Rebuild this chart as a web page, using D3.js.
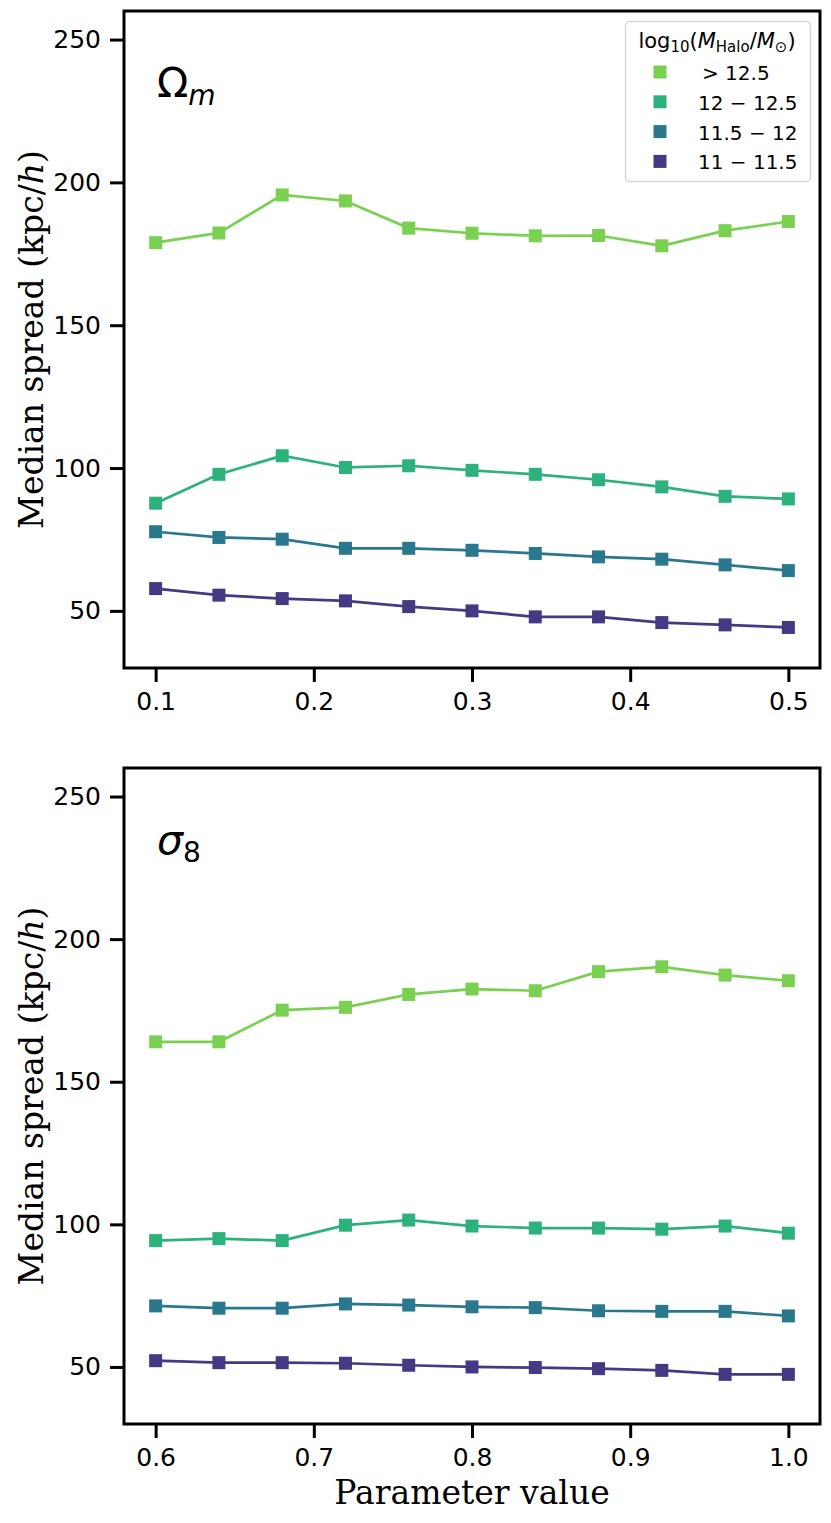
<!DOCTYPE html>
<html>
<head>
<meta charset="utf-8">
<script src="https://cdn.jsdelivr.net/npm/d3@7"></script>
<style>
  body { margin: 0; background: #fff; }
</style>
</head>
<body>
<div id="chart"></div>
<script>
// parameter grids
var omX = [0.1, 0.14, 0.18, 0.22, 0.26, 0.3, 0.34, 0.38, 0.42, 0.46, 0.5];
var s8X = [0.6, 0.64, 0.68, 0.72, 0.76, 0.8, 0.84, 0.88, 0.92, 0.96, 1.0];

var binLabels = ["> 12.5", "12 \u2212 12.5", "11.5 \u2212 12", "11 \u2212 11.5"];
var binColors = ["#7ad151", "#2db27d", "#2a788e", "#443983"];

// median spread, Omega_m runs
var omHigh    = [178.9, 182.3, 195.6, 193.5, 184.0, 182.2, 181.3, 181.4, 177.8, 183.1, 186.3];
var omMid     = [87.7, 97.8, 104.3, 100.2, 100.8, 99.2, 97.8, 95.9, 93.4, 90.1, 89.2];
var omLow     = [77.7, 75.7, 75.1, 71.9, 71.9, 71.2, 70.1, 68.9, 68.1, 66.1, 64.1];
var omLowest  = [57.8, 55.5, 54.3, 53.5, 51.5, 50.0, 47.9, 47.9, 45.9, 45.1, 44.2];

// median spread, sigma_8 runs
var s8High    = [164.0, 164.0, 175.1, 176.1, 180.6, 182.5, 181.9, 188.6, 190.3, 187.4, 185.4];
var s8Mid     = [94.3, 95.0, 94.3, 99.7, 101.5, 99.4, 98.7, 98.7, 98.3, 99.4, 96.9];
var s8Low     = [71.4, 70.6, 70.6, 72.1, 71.7, 71.1, 70.8, 69.7, 69.5, 69.5, 67.9];
var s8Lowest  = [52.2, 51.5, 51.5, 51.3, 50.6, 50.0, 49.8, 49.4, 48.8, 47.4, 47.4];

var yTicks = [50, 100, 150, 200, 250];
var omTicks = [0.1, 0.2, 0.3, 0.4, 0.5];
var s8Ticks = [0.6, 0.7, 0.8, 0.9, 1.0];

var width = 831,
    height = 1523;

var svg = d3.select("#chart")
  .append("svg")
  .attr("width", width)
  .attr("height", height)
  .style("font-family", "'DejaVu Sans', sans-serif");

var left = 124, right = 820;

function panel(top, bottom, xs, xDomain, xTicks, series, tag) {
  var x = d3.scaleLinear().domain(xDomain).range([left, right]);
  var y = d3.scaleLinear().domain([30, 260]).range([bottom, top]);

  var g = svg.append("g");

  var line = d3.line()
    .x(function(d, i){ return x(xs[i]) })
    .y(function(d){ return y(d) });

  // lowest mass bin drawn first
  for (var k = series.length - 1; k >= 0; k--) {
    g.append("path")
      .datum(series[k])
      .attr("d", line)
      .attr("fill", "none")
      .attr("stroke", binColors[k])
      .attr("stroke-width", 2.7);

    g.selectAll(".m" + k)
      .data(series[k])
      .enter().append("rect")
      .attr("x", function(d, i){ return x(xs[i]) - 6.5 })
      .attr("y", function(d){ return y(d) - 6.5 })
      .attr("width", 13)
      .attr("height", 13)
      .attr("fill", binColors[k]);
  }

  // frame
  g.append("rect")
    .attr("x", left)
    .attr("y", top)
    .attr("width", right - left)
    .attr("height", bottom - top)
    .attr("fill", "none")
    .attr("stroke", "#000")
    .attr("stroke-width", 3);

  var yAxis = g.append("g")
    .attr("transform", "translate(" + left + ",0)")
    .call(d3.axisLeft(y).tickValues(yTicks).tickSize(14).tickPadding(9));
  var xAxis = g.append("g")
    .attr("transform", "translate(0," + bottom + ")")
    .call(d3.axisBottom(x).tickValues(xTicks).tickSize(14).tickPadding(10)
      .tickFormat(d3.format(".1f")));

  [yAxis, xAxis].forEach(function(a){
    a.select(".domain").remove();
    a.attr("font-family", null).attr("font-size", null);
    a.selectAll("line").attr("stroke-width", 3);
    a.selectAll("text")
      .style("font-size", "25px")
      .style("font-family", "'DejaVu Sans'")
      .attr("fill", "#000");
  });

  // y label
  var cy = (top + bottom) / 2;
  var yl = g.append("text")
    .attr("transform", "translate(43," + cy + ") rotate(-90)")
    .attr("text-anchor", "middle")
    .style("font-family", "'DejaVu Serif', serif")
    .style("font-size", "33px");
  yl.append("tspan").text("Median spread (kpc/");
  yl.append("tspan").attr("font-style", "italic").text("h");
  yl.append("tspan").text(")");

  // panel tag
  var t = g.append("text")
    .attr("x", 157)
    .attr("y", top + 86)
    .style("font-size", "41px");
  t.append("tspan").attr("font-style", tag[2] ? "italic" : "normal").text(tag[0]);
  t.append("tspan")
    .style("font-size", "28px")
    .attr("dy", 8)
    .attr("font-style", tag[2] ? "normal" : "italic")
    .text(tag[1]);

  return g;
}

panel(11, 668, omX, [0.08, 0.52], omTicks, [omHigh, omMid, omLow, omLowest], ["\u03A9", "m", false]);
panel(768, 1424, s8X, [0.58, 1.02], s8Ticks, [s8High, s8Mid, s8Low, s8Lowest], ["\u03C3", "8", true]);

// x label
svg.append("text")
  .attr("x", 472)
  .attr("y", 1504)
  .attr("text-anchor", "middle")
  .style("font-family", "'DejaVu Serif', serif")
  .style("font-size", "33px")
  .text("Parameter value");

// legend
var legend = svg.append("g");
legend.append("rect")
  .attr("x", 625.5)
  .attr("y", 21.5)
  .attr("width", 185)
  .attr("height", 160)
  .attr("rx", 4)
  .attr("fill", "#fff")
  .attr("stroke", "#d6d6d6")
  .attr("stroke-width", 1.5);

var lt = legend.append("text")
  .attr("x", 717)
  .attr("y", 48)
  .attr("text-anchor", "middle")
  .style("font-size", "21px");
lt.append("tspan").text("log");
lt.append("tspan").style("font-size", "15px").attr("dy", 4).text("10");
lt.append("tspan").attr("dy", -4).text("(");
lt.append("tspan").attr("font-style", "italic").text("M");
lt.append("tspan").style("font-size", "15px").attr("dy", 4).text("Halo");
lt.append("tspan").attr("dy", -4).text("/");
lt.append("tspan").attr("font-style", "italic").text("M");
lt.append("tspan").style("font-size", "15px").attr("dy", 4).text("\u2299");
lt.append("tspan").attr("dy", -4).text(")");

var rows = legend.selectAll(".row")
  .data(binLabels)
  .enter().append("g")
  .attr("class", "row")
  .attr("transform", function(d, i){ return "translate(0," + (72 + i * 29.8) + ")" });

rows.append("rect")
  .attr("x", 653.5)
  .attr("y", -6.5)
  .attr("width", 13)
  .attr("height", 13)
  .attr("fill", function(d, i){ return binColors[i] });

rows.append("text")
  .attr("x", function(d, i){ return i === 0 ? 702 : 698 })
  .attr("y", 8)
  .style("font-size", "20px")
  .text(function(d){ return d });
</script>
</body>
</html>
